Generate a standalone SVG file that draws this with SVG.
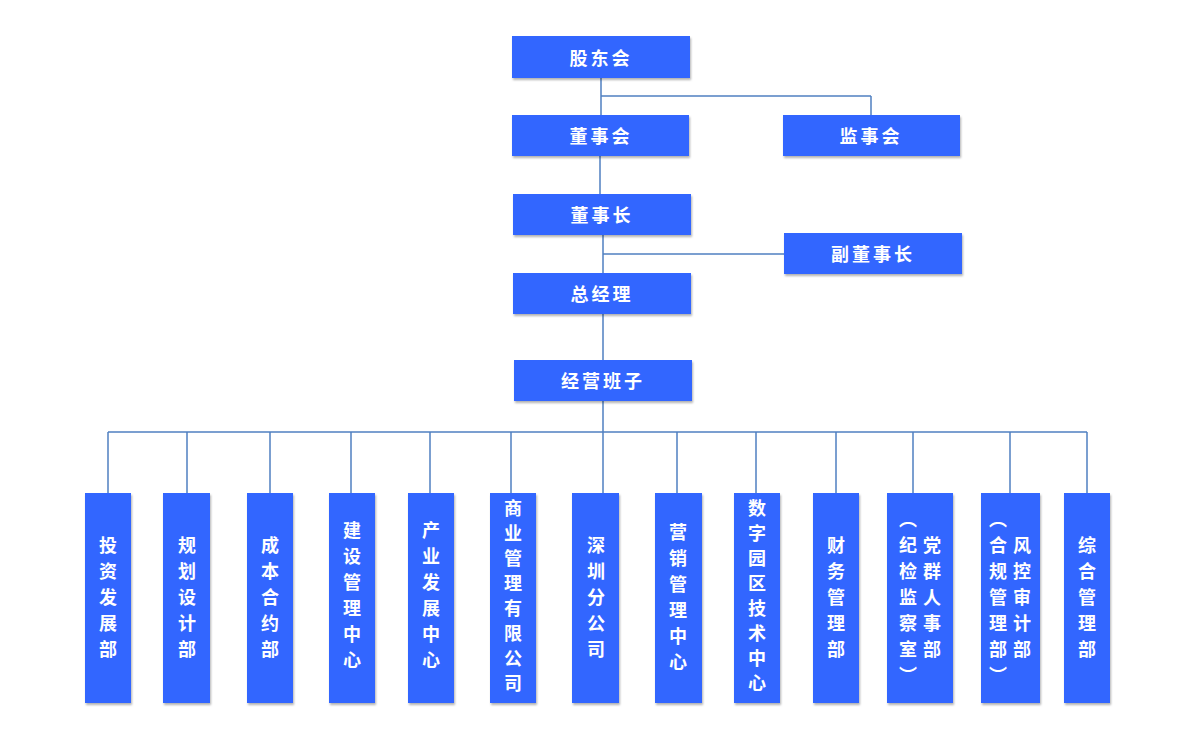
<svg xmlns="http://www.w3.org/2000/svg" width="1180" height="754" viewBox="0 0 1180 754">
<style>
rect{fill:#3366ff;filter:url(#sh)}
text{fill:#fff;font-family:"Noto Sans CJK SC",sans-serif;font-weight:bold;font-size:18px;text-anchor:middle;dominant-baseline:central}
.h{letter-spacing:3px}
#conn line{stroke:#4f7fc0;stroke-width:1.5}
</style>
<defs><filter id="sh" x="-10%" y="-10%" width="130%" height="130%"><feDropShadow dx="1" dy="2" stdDeviation="1.2" flood-opacity="0.3"/></filter></defs>
<rect x="0" y="0" width="1180" height="754" style="fill:#fff;filter:none"/>
<g id="conn">
<line x1="601" y1="78" x2="601" y2="115"/><line x1="601" y1="96" x2="871" y2="96"/><line x1="871" y1="96" x2="871" y2="115"/>
<line x1="600" y1="156" x2="600" y2="194"/>
<line x1="603" y1="235" x2="603" y2="273"/><line x1="603" y1="254" x2="784" y2="254"/>
<line x1="603" y1="314" x2="603" y2="360"/>
<line x1="603" y1="401" x2="603" y2="493"/>
<line x1="108" y1="432" x2="1087" y2="432"/>
<line x1="108" y1="432" x2="108" y2="493"/><line x1="187" y1="432" x2="187" y2="493"/><line x1="270" y1="432" x2="270" y2="493"/><line x1="351" y1="432" x2="351" y2="493"/><line x1="430" y1="432" x2="430" y2="493"/><line x1="511" y1="432" x2="511" y2="493"/><line x1="677" y1="432" x2="677" y2="493"/><line x1="756" y1="432" x2="756" y2="493"/><line x1="836" y1="432" x2="836" y2="493"/><line x1="913" y1="432" x2="913" y2="493"/><line x1="1010" y1="432" x2="1010" y2="493"/><line x1="1087" y1="432" x2="1087" y2="493"/>
</g>
<g id="n1"><rect x="512" y="36" width="178" height="42"/><text class="h" x="601" y="57">股东会</text></g>
<g id="n2"><rect x="512" y="115" width="177" height="41"/><text class="h" x="601" y="135">董事会</text></g>
<g id="n3"><rect x="783" y="115" width="177" height="41"/><text class="h" x="871" y="135">监事会</text></g>
<g id="n4"><rect x="513" y="194" width="178" height="41"/><text class="h" x="602" y="214">董事长</text></g>
<g id="n5"><rect x="784" y="233" width="178" height="41"/><text class="h" x="873" y="253">副董事长</text></g>
<g id="n6"><rect x="513" y="273" width="178" height="41"/><text class="h" x="602" y="293">总经理</text></g>
<g id="n7"><rect x="514" y="360" width="178" height="41"/><text class="h" x="603" y="380">经营班子</text></g>
<g id="b1"><rect x="85" y="493" width="46" height="210"/><text x="108" y="544">投</text><text x="108" y="570">资</text><text x="108" y="596">发</text><text x="108" y="622">展</text><text x="108" y="648">部</text></g>
<g id="b2"><rect x="163" y="493" width="47" height="210"/><text x="187" y="544">规</text><text x="187" y="570">划</text><text x="187" y="596">设</text><text x="187" y="622">计</text><text x="187" y="648">部</text></g>
<g id="b3"><rect x="247" y="493" width="46" height="210"/><text x="270" y="544">成</text><text x="270" y="570">本</text><text x="270" y="596">合</text><text x="270" y="622">约</text><text x="270" y="648">部</text></g>
<g id="b4"><rect x="329" y="493" width="46" height="210"/><text x="352" y="529">建</text><text x="352" y="555">设</text><text x="352" y="581">管</text><text x="352" y="607">理</text><text x="352" y="633">中</text><text x="352" y="659">心</text></g>
<g id="b5"><rect x="408" y="493" width="46" height="210"/><text x="431" y="529">产</text><text x="431" y="555">业</text><text x="431" y="581">发</text><text x="431" y="607">展</text><text x="431" y="633">中</text><text x="431" y="659">心</text></g>
<g id="b6"><rect x="490" y="493" width="46" height="210"/><text x="513" y="507">商</text><text x="513" y="532">业</text><text x="513" y="557">管</text><text x="513" y="582">理</text><text x="513" y="607">有</text><text x="513" y="632">限</text><text x="513" y="657">公</text><text x="513" y="682">司</text></g>
<g id="b7"><rect x="572" y="493" width="47" height="210"/><text x="596" y="544">深</text><text x="596" y="570">圳</text><text x="596" y="596">分</text><text x="596" y="622">公</text><text x="596" y="648">司</text></g>
<g id="b8"><rect x="655" y="493" width="47" height="210"/><text x="678" y="531">营</text><text x="678" y="557">销</text><text x="678" y="583">管</text><text x="678" y="609">理</text><text x="678" y="635">中</text><text x="678" y="661">心</text></g>
<g id="b9"><rect x="734" y="493" width="46" height="210"/><text x="757" y="507">数</text><text x="757" y="532">字</text><text x="757" y="557">园</text><text x="757" y="582">区</text><text x="757" y="607">技</text><text x="757" y="632">术</text><text x="757" y="657">中</text><text x="757" y="682">心</text></g>
<g id="b10"><rect x="813" y="493" width="46" height="210"/><text x="836" y="544">财</text><text x="836" y="570">务</text><text x="836" y="596">管</text><text x="836" y="622">理</text><text x="836" y="648">部</text></g>
<g id="b11"><rect x="887" y="493" width="66" height="210"/><text x="932" y="544">党</text><text x="932" y="570">群</text><text x="932" y="596">人</text><text x="932" y="622">事</text><text x="932" y="648">部</text><text x="908" y="518">︵</text><text x="908" y="544">纪</text><text x="908" y="570">检</text><text x="908" y="596">监</text><text x="908" y="622">察</text><text x="908" y="648">室</text><text x="908" y="674">︶</text></g>
<g id="b12"><rect x="981" y="493" width="59" height="210"/><text x="1022" y="544">风</text><text x="1022" y="570">控</text><text x="1022" y="596">审</text><text x="1022" y="622">计</text><text x="1022" y="648">部</text><text x="998" y="518">︵</text><text x="998" y="544">合</text><text x="998" y="570">规</text><text x="998" y="596">管</text><text x="998" y="622">理</text><text x="998" y="648">部</text><text x="998" y="674">︶</text></g>
<g id="b13"><rect x="1064" y="493" width="46" height="210"/><text x="1087" y="544">综</text><text x="1087" y="570">合</text><text x="1087" y="596">管</text><text x="1087" y="622">理</text><text x="1087" y="648">部</text></g>
</svg>
